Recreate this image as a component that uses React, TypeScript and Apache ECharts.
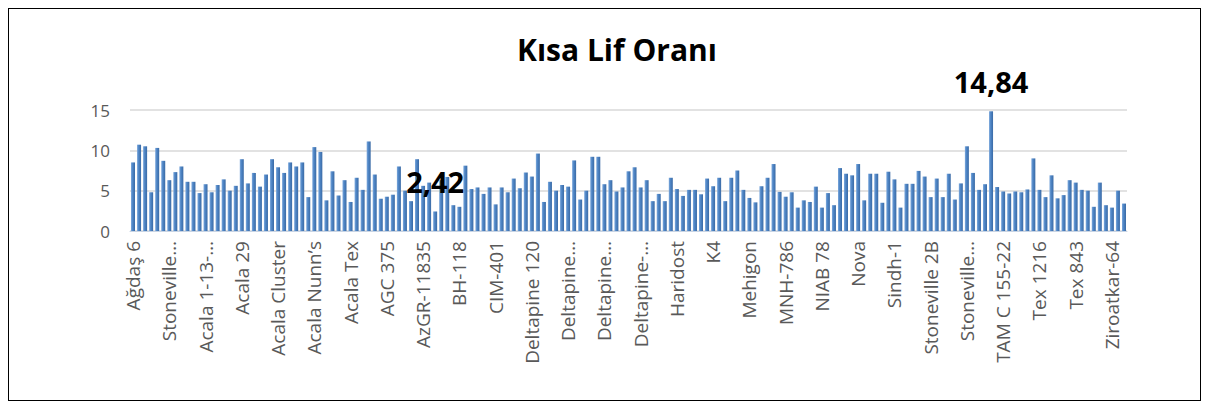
import React, { useEffect, useRef } from "react";
import * as echarts from "echarts";

const title = "Kısa Lif Oranı";

// Visible category labels (every 6th variety)
const visibleLabels = [
  "Ağdaş 6", "Stoneville…", "Acala 1-13-…", "Acala 29", "Acala Cluster", "Acala Nunn’s",
  "Acala Tex", "AGC 375", "AzGR-11835", "BH-118", "CIM-401", "Deltapine 120",
  "Deltapine…", "Deltapine…", "Deltapine-…", "Haridost", "K4", "Mehigon",
  "MNH-786", "NIAB 78", "Nova", "Sindh-1", "Stoneville 2B", "Stoneville…",
  "TAM C 155-22", "Tex 1216", "Tex 843", "Ziroatkar-64",
];
const labelStep = 6;

const values1 = [
  8.5, 10.7, 10.5, 4.8, 10.3, 8.7, 6.3, 7.3, 8.0, 6.1,
  6.1, 4.7, 5.8, 4.8, 5.7, 6.4, 5.0, 5.6, 8.9, 5.9,
  7.2, 5.5, 7.0, 8.9, 7.9, 7.2, 8.5, 8.0, 8.5, 4.2,
  10.4, 9.8, 3.8, 7.4, 4.4, 6.3, 3.6, 6.6, 5.1, 11.1,
];
const values2 = [
  7.0, 4.0, 4.25, 4.5, 8.0, 5.0, 3.7, 8.9, 5.6, 6.0,
  2.42, 6.3, 6.7, 3.2, 3.0, 8.1, 5.2, 5.4, 4.6, 5.4,
  3.3, 5.4, 4.8, 6.5, 5.3, 7.25, 6.75, 9.6, 3.6, 6.1,
  5.0, 5.7, 5.5, 8.75, 3.9, 5.0, 9.2, 9.2, 5.8, 6.3,
];
const values3 = [
  4.9, 5.4, 7.4, 7.9, 5.4, 6.3, 3.7, 4.6, 3.7, 6.6,
  5.2, 4.35, 5.1, 5.1, 4.55, 6.5, 5.55, 6.6, 3.7, 6.6,
  7.5, 5.1, 4.1, 3.55, 5.55, 6.6, 8.3, 4.85, 4.25, 4.8,
  2.9, 3.8, 3.6, 5.5, 2.9, 4.7, 3.2, 7.8, 7.1, 6.9,
];
const values4 = [
  8.3, 3.8, 7.1, 7.1, 3.5, 7.35, 6.4, 2.9, 5.85, 5.85,
  7.45, 6.75, 4.2, 6.5, 4.2, 7.1, 3.9, 5.9, 10.5, 7.2,
  5.1, 5.8, 14.84, 5.45, 4.9, 4.65, 4.9, 4.8, 5.15, 9.0,
  5.1, 4.2, 6.9, 4.05, 4.45, 6.3, 6.0, 5.1, 5.0, 3.0,
  6.0, 3.2, 2.9, 5.0, 3.4,
];
const values = [...values1, ...values2, ...values3, ...values4];

const yTicks = [0, 5, 10, 15];

export default function App() {
  const ref = useRef<HTMLDivElement>(null);
  useEffect(() => {
    if (!ref.current) return;
    const chart = echarts.init(ref.current, undefined, { renderer: "svg" });
    const categories = values.map((_, i) =>
      i % labelStep === 0 ? visibleLabels[i / labelStep] ?? "" : ""
    );
    const maxV = Math.max(...values);
    const minV = Math.min(...values);
    const font = "'Open Sans', Lato, sans-serif";
    chart.setOption({
      animation: false,
      title: {
        text: title,
        left: 503,
        top: 20,
        textStyle: { fontFamily: font, fontWeight: "bold", fontSize: 30, color: "#000" },
      },
      grid: { left: 121, right: 73, top: 101, bottom: 169, containLabel: false },
      xAxis: {
        type: "category",
        data: categories,
        axisLine: { show: true, lineStyle: { color: "#c8d4e4", width: 1 } },
        axisTick: { show: false },
        axisLabel: {
          interval: 0,
          rotate: 90,
          margin: 10,
          fontFamily: font,
          fontSize: 19,
          color: "#595959",
        },
      },
      yAxis: {
        type: "value",
        min: yTicks[0],
        max: yTicks[yTicks.length - 1],
        interval: 5,
        axisLine: { show: false },
        axisTick: { show: false },
        splitLine: { lineStyle: { color: "#d9d9d9", width: 1.5 } },
        axisLabel: { fontFamily: font, fontSize: 17, color: "#595959", margin: 20 },
      },
      series: [
        {
          type: "bar",
          barWidth: 4,
          data: values.map((v) => ({
            value: v,
            label: { show: v === maxV || v === minV },
          })),
          itemStyle: {
            color: new echarts.graphic.LinearGradient(0, 0, 1, 0, [
              { offset: 0, color: "#7ea9dc" },
              { offset: 0.4, color: "#4f86c6" },
              { offset: 1, color: "#3a6aa5" },
            ]),
          },
          label: {
            position: "top",
            distance: 15,
            fontFamily: font,
            fontWeight: "bold",
            fontSize: 29,
            color: "#000",
            formatter: (p: any) => String(p.value).replace(".", ","),
          },
        },
      ],
    });
    return () => chart.dispose();
  }, []);
  return (
    <div
      style={{
        width: 1193,
        height: 393,
        border: "1px solid #000",
        boxSizing: "border-box",
        background: "#fff",
      }}
    >
      <div ref={ref} style={{ width: 1191, height: 391 }} />
    </div>
  );
}
